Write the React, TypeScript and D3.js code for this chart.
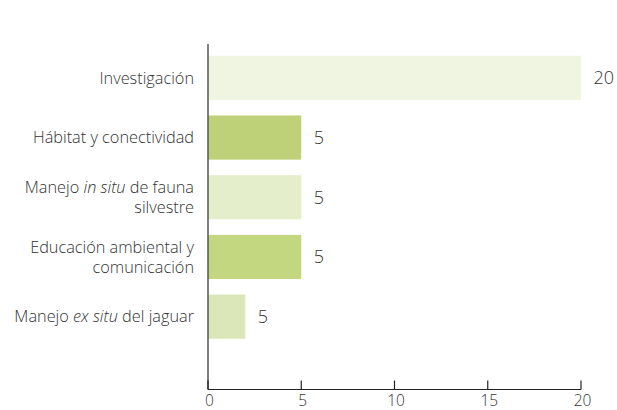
import React from "react";
import * as d3 from "d3";

// categories, top to bottom; each label is split into lines of [text, italic] parts
const categories = [
    "Investigación",
    "Hábitat y conectividad",
    "Manejo in situ de fauna silvestre",
    "Educación ambiental y comunicación",
    "Manejo ex situ del jaguar",
];
const labelLines: [string, boolean][][][] = [
    [[["Investigación", false]]],
    [[["Hábitat y conectividad", false]]],
    [
        [["Manejo ", false], ["in situ", true], [" de fauna", false]],
        [["silvestre", false]],
    ],
    [[["Educación ambiental y", false]], [["comunicación", false]]],
    [[["Manejo ", false], ["ex situ", true], [" del jaguar", false]]],
];
const values = [20, 5, 5, 5, 2];
const valueLabels = ["20", "5", "5", "5", "5"];
const colors = ["#f0f5e1", "#bed178", "#e4eecb", "#c3d680", "#dbe7b8"];
const xTicks = [0, 5, 10, 15, 20];

const width = 617;
const height = 410;
const font = "'Open Sans', sans-serif";
const textColor = "#333";

const App = () => {
    const x = d3.scaleLinear().domain([0, 20]).range([208, 581]);
    const y = d3
        .scaleBand()
        .domain(categories)
        .range([48, 346.5])
        .paddingInner(0.26)
        .paddingOuter(0.13);
    const axisBottom = 389.5;

    return (
        <svg
            width={width}
            height={height}
            style={{ position: "absolute", left: 0, top: 0 }}
            fontFamily={font}
        >
            {/* bars */}
            {categories.map((c, i) => (
                <rect
                    key={c}
                    x={x(0)}
                    y={y(c)}
                    width={x(values[i]) - x(0)}
                    height={y.bandwidth()}
                    fill={colors[i]}
                />
            ))}

            {/* value labels */}
            {categories.map((c, i) => (
                <text
                    key={c}
                    x={x(values[i]) + 12.5}
                    y={y(c)! + y.bandwidth() / 2}
                    dy="0.35em"
                    fontSize={18}
                    fill={textColor}
                    fontWeight={300}
                >
                    {valueLabels[i]}
                </text>
            ))}

            {/* category labels */}
            {categories.map((c, i) => {
                const lines = labelLines[i];
                const cy = y(c)! + y.bandwidth() / 2;
                const lh = 20;
                const y0 = cy - ((lines.length - 1) * lh) / 2;
                return (
                    <text
                        key={c}
                        x={194}
                        textAnchor="end"
                        fontSize={16.3}
                        fontWeight={300}
                        fill={textColor}
                    >
                        {lines.map((parts, li) => (
                            <tspan key={li} x={194} y={y0 + li * lh} dy="0.35em">
                                {parts.map(([t, it], pi) => (
                                    <tspan key={pi} fontStyle={it ? "italic" : "normal"}>
                                        {t}
                                    </tspan>
                                ))}
                            </tspan>
                        ))}
                    </text>
                );
            })}

            {/* vertical axis */}
            <line
                x1={x(0)}
                x2={x(0)}
                y1={44}
                y2={axisBottom}
                stroke="#555"
                strokeWidth={1.5}
            />

            {/* bottom axis */}
            <line
                x1={x(0)}
                x2={x(20)}
                y1={axisBottom}
                y2={axisBottom}
                stroke="#222"
                strokeWidth={1.2}
            />
            {xTicks.map((t) => (
                <g key={t}>
                    <line
                        x1={x(t)}
                        x2={x(t)}
                        y1={axisBottom - 9}
                        y2={axisBottom}
                        stroke="#222"
                        strokeWidth={1.2}
                    />
                    <text
                        x={x(t) + 1.5}
                        y={axisBottom + 16.5}
                        textAnchor="middle"
                        fontSize={15.5}
                        fontWeight={300}
                        fill={textColor}
                    >
                        {t}
                    </text>
                </g>
            ))}
        </svg>
    );
};

export default App;
